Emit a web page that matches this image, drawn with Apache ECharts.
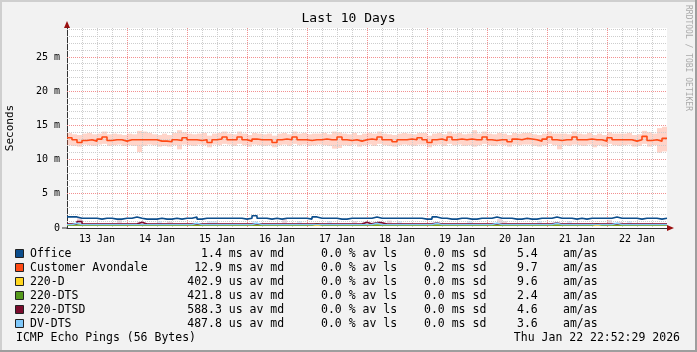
<!DOCTYPE html>
<html><head><meta charset="utf-8">
<script src="https://cdn.jsdelivr.net/npm/echarts@6/dist/echarts.min.js"></script>
<style>html,body{margin:0;padding:0;background:#f2f2f2}#c{width:697px;height:352px}</style>
</head><body><div id="c"></div>
<script>
// ---------- data ----------
const dayLabels = ['13 Jan','14 Jan','15 Jan','16 Jan','17 Jan','18 Jan','19 Jan','20 Jan','21 Jan','22 Jan'];
const majorHours = [24,48,72,96,120,144,168,192,216];
const minorHours = [6,12,18,30,36,42,54,60,66,78,84,90,102,108,114,126,132,138,150,156,162,174,180,186,198,204,210,222,228,234];
const majorMs = [5,10,15,20,25];
const minorMs = [1,2,3,4,6,7,8,9,11,12,13,14,16,17,18,19,21,22,23,24,26,27,28,29];
const names = ['Office','Customer Avondale','220-D','220-DTS','220-DTSD','DV-DTS'];
const avgVal = ['1.4','12.9','402.9','421.8','588.3','487.8'];
const avgUnit = ['ms','ms','us','us','us','us'];
const lossVal = ['0.0','0.0','0.0','0.0','0.0','0.0'];
const sdVal = ['0.0','0.2','0.0','0.0','0.0','0.0'];
const amasVal = ['5.4','9.7','9.6','2.4','4.6','3.6'];
const title = 'Last 10 Days';
const footerLeft = 'ICMP Echo Pings (56 Bytes)';
const footerRight = 'Thu Jan 22 22:52:29 2026';
const watermark = 'RRDTOOL / TOBI OETIKER';
const yTitle = 'Seconds';

// medians in ms, one value per 2-hour bin (120 bins over 10 days)
const office = [
1.62,1.62,1.42,1.42,1.42,1.42,1.30,1.42,1.42,1.30,
1.30,1.42,1.42,1.62,1.42,1.30,1.30,1.30,1.42,1.30,
1.30,1.42,1.30,1.42,1.42,1.62,1.30,1.42,1.42,1.42,
1.42,1.42,1.42,1.42,1.42,1.30,1.42,1.78,1.42,1.42,
1.30,1.42,1.30,1.42,1.42,1.42,1.42,1.42,1.30,1.62,
1.42,1.42,1.42,1.42,1.30,1.30,1.42,1.42,1.42,1.42,
1.42,1.62,1.42,1.42,1.42,1.42,1.42,1.42,1.42,1.42,
1.42,1.30,1.30,1.62,1.42,1.42,1.30,1.30,1.42,1.42,
1.30,1.30,1.42,1.42,1.42,1.62,1.42,1.42,1.42,1.30,
1.30,1.42,1.30,1.30,1.42,1.42,1.42,1.62,1.42,1.42,
1.42,1.30,1.42,1.30,1.42,1.42,1.42,1.42,1.42,1.62,
1.42,1.42,1.42,1.42,1.30,1.42,1.42,1.42,1.30,1.42];
const avondale = [
13.2,12.9,12.5,12.8,12.9,12.7,13.0,13.3,12.8,12.9,
12.9,12.7,12.9,12.9,12.9,12.9,12.9,12.9,12.7,12.7,
12.6,12.9,12.8,13.2,12.9,12.9,12.8,12.9,12.5,12.9,
13.0,13.3,12.9,12.9,13.3,12.9,12.7,13.0,12.9,12.9,
12.9,12.5,12.9,13.0,12.9,13.3,12.9,12.9,12.8,12.9,
12.9,13.0,12.9,12.9,13.3,12.9,12.8,12.9,12.7,12.9,
13.0,12.9,13.3,12.9,12.9,12.6,12.9,12.9,13.0,12.9,
13.2,12.9,12.5,12.9,13.0,12.8,13.3,12.9,13.0,12.9,
13.0,12.9,12.9,13.3,12.9,12.8,12.9,12.9,12.6,13.0,
12.9,13.1,13.0,12.9,12.7,13.0,13.3,12.9,12.8,12.9,
12.9,13.3,12.9,12.9,13.0,12.9,12.9,12.7,13.2,12.9,
12.9,12.9,12.9,12.7,12.9,13.4,12.8,12.9,12.7,13.1];
const avondaleLow = [
12.1,12.0,11.9,12.2,12.1,12.0,12.2,12.3,12.0,12.1,
12.2,12.0,12.1,12.0,11.1,12.0,12.2,12.1,11.9,12.0,
11.9,12.1,11.5,12.2,12.1,12.0,12.2,12.1,11.8,12.2,
12.1,12.3,12.2,12.0,12.3,12.1,11.9,12.2,12.1,12.0,
12.1,11.8,12.1,12.2,12.0,12.3,12.1,12.2,12.0,12.1,
12.2,12.1,12.0,11.6,11.7,12.1,12.0,12.2,11.9,12.1,
12.2,12.0,12.3,12.1,12.0,11.9,12.1,12.2,12.1,12.0,
12.2,12.2,11.8,12.1,12.2,12.0,12.3,12.1,12.2,12.0,
12.1,11.9,12.1,12.3,12.1,12.0,12.2,12.1,11.9,12.2,
12.1,12.2,12.2,12.0,11.9,12.1,12.3,12.1,11.5,12.1,
12.0,12.2,12.1,12.0,12.2,11.8,12.1,11.9,12.3,12.1,
12.0,12.1,12.2,11.9,12.0,12.3,11.9,12.1,11.0,11.2];
const avondaleHigh = [
13.9,13.7,13.6,13.8,13.9,13.7,13.8,14.1,13.7,13.8,
13.7,13.6,13.8,13.7,14.2,14.1,13.9,13.7,13.6,13.8,
13.6,13.9,14.3,14.0,13.8,13.7,13.8,13.9,13.5,13.8,
13.9,14.1,13.8,13.7,14.1,13.8,13.6,13.9,13.8,13.7,
13.8,13.5,13.8,13.9,13.7,14.1,13.8,13.9,13.7,13.8,
13.8,13.9,13.7,14.1,14.0,13.8,13.7,13.9,13.6,13.8,
13.9,13.8,14.1,13.8,13.7,13.6,13.8,13.9,13.8,13.7,
13.9,13.9,13.5,13.8,13.9,13.7,14.1,13.8,13.9,13.7,
13.8,14.3,13.8,14.1,13.8,13.7,13.9,13.8,13.6,13.9,
13.8,13.9,13.9,13.7,13.6,13.8,14.1,13.8,13.8,13.8,
13.7,14.1,13.8,13.7,13.9,13.6,13.8,13.6,14.0,13.8,
13.8,13.8,13.9,13.6,13.7,14.2,14.0,13.8,14.6,14.8];
const d220 = [
0.40,0.55,0.40,0.40,0.40,0.40,0.40,0.40,0.40,0.40,
0.40,0.40,0.40,0.40,0.40,0.40,0.40,0.40,0.40,0.40,
0.40,0.40,0.40,0.40,0.40,0.40,0.40,0.40,0.40,0.40,
0.40,0.40,0.40,0.40,0.40,0.40,0.40,0.40,0.40,0.40,
0.40,0.40,0.40,0.40,0.40,0.40,0.40,0.40,0.40,0.40,
0.40,0.40,0.40,0.40,0.40,0.40,0.40,0.40,0.40,0.40,
0.40,0.40,0.40,0.40,0.40,0.40,0.40,0.40,0.40,0.40,
0.40,0.40,0.40,0.40,0.40,0.40,0.40,0.40,0.40,0.40,
0.40,0.40,0.40,0.40,0.40,0.40,0.40,0.40,0.40,0.40,
0.40,0.40,0.40,0.40,0.40,0.40,0.40,0.40,0.40,0.40,
0.40,0.40,0.40,0.40,0.40,0.40,0.40,0.40,0.40,0.40,
0.40,0.40,0.40,0.40,0.40,0.40,0.40,0.40,0.40,0.40];
const dts220 = [
0.42,0.42,0.42,0.42,0.42,0.42,0.42,0.42,0.42,0.42,
0.42,0.42,0.42,0.42,0.42,0.42,0.42,0.42,0.42,0.42,
0.42,0.42,0.42,0.42,0.42,0.42,0.42,0.42,0.42,0.42,
0.42,0.42,0.42,0.42,0.42,0.42,0.42,0.42,0.42,0.42,
0.42,0.42,0.42,0.42,0.42,0.42,0.42,0.42,0.42,0.62,
0.42,0.42,0.42,0.42,0.42,0.42,0.42,0.42,0.42,0.42,
0.42,0.42,0.42,0.42,0.42,0.42,0.42,0.42,0.42,0.42,
0.42,0.42,0.42,0.42,0.42,0.42,0.42,0.42,0.42,0.42,
0.42,0.42,0.42,0.42,0.42,0.42,0.42,0.42,0.42,0.42,
0.42,0.42,0.42,0.42,0.42,0.42,0.42,0.42,0.42,0.42,
0.42,0.42,0.42,0.42,0.42,0.60,0.42,0.42,0.42,0.42,
0.42,0.42,0.42,0.42,0.42,0.42,0.42,0.42,0.42,0.42];
const dtsd220 = [
0.59,0.59,0.95,0.59,0.59,0.59,0.59,0.59,0.59,0.59,
0.59,0.59,0.59,0.59,0.85,0.59,0.59,0.59,0.59,0.59,
0.59,0.59,0.59,0.59,0.59,0.59,0.59,0.59,0.59,0.59,
0.59,0.59,0.59,0.59,0.59,0.59,0.59,0.59,0.59,0.59,
0.59,0.59,0.59,0.59,0.59,0.59,0.59,0.59,0.59,0.59,
0.59,0.59,0.59,0.59,0.59,0.59,0.59,0.59,0.59,0.85,
0.59,0.78,0.78,0.59,0.59,0.59,0.59,0.59,0.59,0.59,
0.59,0.59,0.59,0.72,0.59,0.59,0.59,0.59,0.59,0.59,
0.59,0.59,0.59,0.59,0.59,0.59,0.59,0.59,0.59,0.59,
0.59,0.59,0.59,0.59,0.59,0.59,0.59,0.72,0.59,0.59,
0.59,0.59,0.59,0.59,0.59,0.59,0.59,0.59,0.59,0.59,
0.59,0.59,0.59,0.59,0.59,0.59,0.59,0.59,0.59,0.59];
const dtsd220Low = [
0.50,0.50,0.50,0.50,0.50,0.50,0.50,0.50,0.50,0.50,
0.50,0.50,0.50,0.50,0.50,0.50,0.50,0.50,0.50,0.50,
0.50,0.50,0.50,0.50,0.50,0.50,0.50,0.50,0.50,0.50,
0.50,0.50,0.50,0.50,0.50,0.50,0.50,0.50,0.50,0.50,
0.50,0.50,0.50,0.50,0.50,0.50,0.50,0.50,0.50,0.50,
0.50,0.50,0.50,0.50,0.50,0.50,0.50,0.50,0.50,0.50,
0.50,0.50,0.50,0.50,0.50,0.50,0.50,0.50,0.50,0.50,
0.50,0.50,0.50,0.50,0.50,0.50,0.50,0.50,0.50,0.50,
0.50,0.50,0.50,0.50,0.50,0.50,0.50,0.50,0.50,0.50,
0.50,0.50,0.50,0.50,0.50,0.50,0.50,0.50,0.50,0.50,
0.50,0.50,0.50,0.50,0.50,0.50,0.50,0.50,0.50,0.50,
0.50,0.50,0.50,0.50,0.50,0.50,0.50,0.50,0.50,0.50];
const dtsd220High = [
0.70,0.70,1.50,0.70,0.70,0.70,0.70,0.70,0.70,0.70,
1.20,0.70,0.70,0.70,0.90,0.70,0.70,0.70,0.70,0.70,
0.95,0.70,0.70,0.70,0.70,0.70,0.70,0.70,0.70,0.70,
0.70,0.70,0.70,0.70,0.70,0.70,0.70,0.70,0.70,0.70,
0.70,0.70,0.70,1.30,0.70,0.70,0.70,0.70,0.70,0.70,
0.70,0.70,0.70,0.70,0.70,0.70,0.70,1.00,0.70,0.90,
0.70,0.85,0.85,0.70,1.10,0.70,0.70,0.70,0.70,0.70,
0.70,0.70,0.70,0.80,0.70,0.70,0.70,0.70,0.70,0.70,
0.70,0.70,0.70,0.70,0.70,0.70,1.30,1.00,0.70,0.70,
0.70,0.70,0.70,0.70,0.70,0.70,0.70,0.80,0.70,0.70,
0.70,0.70,0.70,0.70,0.70,0.70,0.70,0.70,1.20,0.70,
0.90,0.70,0.70,0.70,0.70,0.70,0.70,0.70,0.70,0.70];
const dvdts = [
0.49,0.70,0.49,0.49,0.49,0.49,0.49,0.49,0.49,0.49,
0.49,0.49,0.49,0.49,0.49,0.49,0.49,0.49,0.49,0.49,
0.49,0.49,0.49,0.49,0.49,0.70,0.49,0.49,0.49,0.49,
0.49,0.49,0.49,0.49,0.49,0.49,0.49,0.70,0.49,0.49,
0.49,0.49,0.49,0.49,0.49,0.49,0.49,0.49,0.49,0.49,
0.49,0.49,0.49,0.49,0.49,0.49,0.49,0.49,0.49,0.49,
0.49,0.70,0.49,0.49,0.49,0.49,0.49,0.49,0.49,0.49,
0.49,0.49,0.49,0.70,0.49,0.49,0.49,0.49,0.49,0.49,
0.49,0.49,0.49,0.49,0.49,0.70,0.49,0.49,0.49,0.49,
0.49,0.49,0.49,0.49,0.49,0.49,0.49,0.70,0.49,0.49,
0.49,0.49,0.49,0.49,0.49,0.49,0.49,0.49,0.49,0.70,
0.49,0.49,0.49,0.49,0.49,0.49,0.49,0.49,0.49,0.49];
const dvdtsLow = [
0.38,0.38,0.38,0.38,0.38,0.38,0.38,0.38,0.38,0.38,
0.38,0.38,0.38,0.38,0.38,0.38,0.38,0.38,0.38,0.38,
0.38,0.38,0.38,0.38,0.38,0.38,0.38,0.38,0.38,0.38,
0.38,0.38,0.38,0.38,0.38,0.38,0.38,0.38,0.38,0.38,
0.38,0.38,0.38,0.38,0.38,0.38,0.38,0.38,0.38,0.38,
0.38,0.38,0.38,0.38,0.38,0.38,0.38,0.38,0.38,0.38,
0.38,0.38,0.38,0.38,0.38,0.38,0.38,0.38,0.38,0.38,
0.38,0.38,0.38,0.38,0.38,0.38,0.38,0.38,0.38,0.38,
0.38,0.38,0.38,0.38,0.38,0.38,0.38,0.38,0.38,0.38,
0.38,0.38,0.38,0.38,0.38,0.38,0.38,0.38,0.38,0.38,
0.38,0.38,0.38,0.38,0.38,0.38,0.38,0.38,0.38,0.38,
0.38,0.38,0.38,0.38,0.38,0.38,0.38,0.38,0.38,0.38];
const dvdtsHigh = [
0.62,0.80,0.62,0.62,0.62,0.62,0.62,0.62,0.62,0.62,
0.62,0.62,0.62,0.62,0.62,0.62,0.62,0.62,1.00,0.62,
0.62,0.62,0.62,0.62,0.62,0.80,0.62,0.62,1.00,1.00,
0.62,0.62,0.62,0.62,0.62,0.62,0.62,1.00,0.62,0.62,
0.62,0.62,0.62,0.62,0.62,0.62,1.00,0.62,0.62,0.62,
0.62,0.62,1.00,0.62,0.62,0.62,0.62,0.62,0.62,0.62,
0.62,0.80,0.62,0.62,0.62,0.62,1.00,0.62,0.62,0.62,
0.62,0.62,0.62,0.80,0.62,0.62,0.62,0.62,0.62,0.62,
1.00,0.62,0.62,0.62,0.62,0.80,0.62,0.62,0.62,0.62,
0.62,0.62,0.62,0.62,1.00,0.62,0.62,0.80,0.62,0.62,
1.00,0.62,0.62,0.62,0.62,0.62,0.62,0.62,0.62,0.80,
0.62,0.62,1.00,0.62,0.62,0.62,0.62,0.62,0.62,0.62];

// ---------- styling ----------
const colors = ['#0c4d8c','#ff4a14','#ffd61e','#559a1c','#7a0b2c','#7fc8fa'];
const smokeColors = {avondale:'rgba(255,100,60,0.28)', dtsd:'rgba(150,40,80,0.18)', dvdts:'rgba(80,170,240,0.22)'};
const MONO = '"DejaVu Sans Mono", monospace';
const BIN_H = 2, SPAN_H = 240, Y_MAX = 29.24;
const MINOR = '#cdcdcd', MAJOR = '#f29090';

function pts(arr){ const p = arr.map((v,i)=>[i*BIN_H, v]); p.push([SPAN_H, arr[arr.length-1]]); return p; }
// snap a 1px line onto a pixel column/row
function crisp(p){ return Math.round(p - 0.5) + 0.5; }

function smoke(lo, hi, color){
  return {
    type:'custom', silent:true, z:1, clip:true,
    data: lo.map((v,i)=>[i*BIN_H, v, hi[i]]),
    encode:{x:0, y:[1,2]},
    renderItem:function(params, api){
      const t = api.value(0), a = api.value(1), b = api.value(2);
      const p0 = api.coord([t, b]);
      const p1 = api.coord([t + BIN_H, a]);
      const cs = params.coordSys;
      const r = echarts.graphic.clipRectByRect(
        {x:p0[0], y:p0[1], width:p1[0]-p0[0], height:p1[1]-p0[1]},
        {x:cs.x, y:cs.y, width:cs.width, height:cs.height});
      return r ? {type:'rect', shape:r, style:{fill:color}} : null;
    }
  };
}
function gridLines(vals, vertical, color){
  return {
    type:'custom', silent:true, z:2, clip:false,
    data: vals.map(v => vertical ? [v, 0] : [0, v]),
    encode:{x:0, y:1},
    renderItem:function(params, api){
      const cs = params.coordSys;
      const p = api.coord([api.value(0), api.value(1)]);
      const shape = vertical
        ? {x1:crisp(p[0]), y1:cs.y, x2:crisp(p[0]), y2:cs.y + cs.height}
        : {x1:cs.x, y1:crisp(p[1]), x2:cs.x + cs.width, y2:crisp(p[1])};
      return {type:'line', shape:shape, style:{stroke:color, lineWidth:1, lineDash:[1,1]}};
    }
  };
}
function medLine(arr, color, w){
  return {type:'line', data:pts(arr), step:'end', symbol:'none', silent:true, lineStyle:{color:color, width:w}, z:3};
}

const series = [
  smoke(dvdtsLow, dvdtsHigh, smokeColors.dvdts),
  smoke(dtsd220Low, dtsd220High, smokeColors.dtsd),
  smoke(avondaleLow, avondaleHigh, smokeColors.avondale),
  gridLines(minorHours, true, MINOR),
  gridLines(minorMs, false, MINOR),
  gridLines(majorHours, true, MAJOR),
  gridLines(majorMs, false, MAJOR),
  medLine(office, colors[0], 1.6),
  medLine(avondale, colors[1], 1.6),
  medLine(d220, colors[2], 1.4),
  medLine(dts220, colors[3], 1.4),
  medLine(dtsd220, colors[4], 1.6),
  medLine(dvdts, colors[5], 1.4)
];

// ---------- legend / text graphics ----------
const g = [];
const txt = (x,y,text,opt)=>({type:'text', x:x, y:y, silent:true, style:Object.assign({text:text, font:'11.5px '+MONO, fill:'#000', textAlign:'left', align:'left', textVerticalAlign:'middle', verticalAlign:'middle'}, opt||{})});
// frame
g.push({type:'line', silent:true, shape:{x1:0,y1:1,x2:697,y2:1}, style:{stroke:'#cfcfcf', lineWidth:2}});
g.push({type:'line', silent:true, shape:{x1:1,y1:0,x2:1,y2:352}, style:{stroke:'#cfcfcf', lineWidth:2}});
g.push({type:'line', silent:true, shape:{x1:0,y1:351,x2:697,y2:351}, style:{stroke:'#9e9e9e', lineWidth:2}});
g.push({type:'line', silent:true, shape:{x1:696,y1:0,x2:696,y2:352}, style:{stroke:'#9e9e9e', lineWidth:2}});
// title etc.
g.push(txt(348.5, 19, title, {font:'13px '+MONO, textAlign:'center', align:'center'}));
g.push(Object.assign(txt(10, 128, yTitle, {font:'11px '+MONO, textAlign:'center', align:'center'}), {rotation:Math.PI/2}));
g.push(Object.assign(txt(688, 5, watermark, {font:'8px '+MONO, fill:'#aaaaaa'}), {rotation:-Math.PI/2}));
// axis arrows
g.push({type:'polygon', silent:true, shape:{points:[[667,225],[674,228],[667,231]]}, style:{fill:'#9a1010'}});
g.push({type:'polygon', silent:true, shape:{points:[[64,28],[67,21],[70,28]]}, style:{fill:'#9a1010'}});
g.push({type:'line', silent:true, shape:{x1:62,y1:228,x2:67,y2:228}, style:{stroke:'#333', lineWidth:1}});
// legend rows
const CW = 6.95;
names.forEach((n,i)=>{
  const y = 254 + 14*i;
  g.push({type:'rect', silent:true, shape:{x:15.5, y:y-4.5, width:8, height:8}, style:{fill:colors[i], stroke:'#222', lineWidth:1}});
  g.push(txt(30, y, n));
  g.push(txt(222 - 5*CW, y, avgVal[i].padStart(5,' ') + ' ' + avgUnit[i] + ' av md'));
  g.push(txt(321, y, lossVal[i] + ' % av ls'));
  g.push(txt(424, y, sdVal[i] + ' ms sd'));
  g.push(txt(517, y, amasVal[i]));
  g.push(txt(563, y, 'am/as'));
});
g.push(txt(16, 338, footerLeft));
g.push(txt(680, 338, footerRight, {textAlign:'right', align:'right'}));

const chart = echarts.init(document.getElementById('c'), null, {renderer:'canvas'});
chart.setOption({
  animation:false,
  backgroundColor:'#f2f2f2',
  grid:{left:67, right:30, top:28, bottom:124, show:true, backgroundColor:'#ffffff', borderWidth:0},
  xAxis:{
    type:'value', min:0, max:SPAN_H, interval:6,
    axisLine:{show:true, onZero:false, lineStyle:{color:'#333', width:1}},
    axisTick:{show:false},
    axisLabel:{fontFamily:'DejaVu Sans Mono', fontSize:10, color:'#000', margin:6,
      formatter:(v)=>{ if (v % 24 === 12) { const k=(v-12)/24; return dayLabels[k]||''; } return ''; }},
    splitLine:{show:false}
  },
  yAxis:{
    type:'value', min:0, max:Y_MAX, interval:1,
    axisLine:{show:true, lineStyle:{color:'#333', width:1}},
    axisTick:{show:false},
    axisLabel:{fontFamily:'DejaVu Sans Mono', fontSize:10, color:'#000', margin:7,
      formatter:(v)=>{ if (Math.abs(v % 5) < 1e-9) return v===0 ? '0' : (v + ' m'); return ''; }},
    splitLine:{show:false}
  },
  series:series,
  graphic:{elements:g}
});
</script></body></html>
